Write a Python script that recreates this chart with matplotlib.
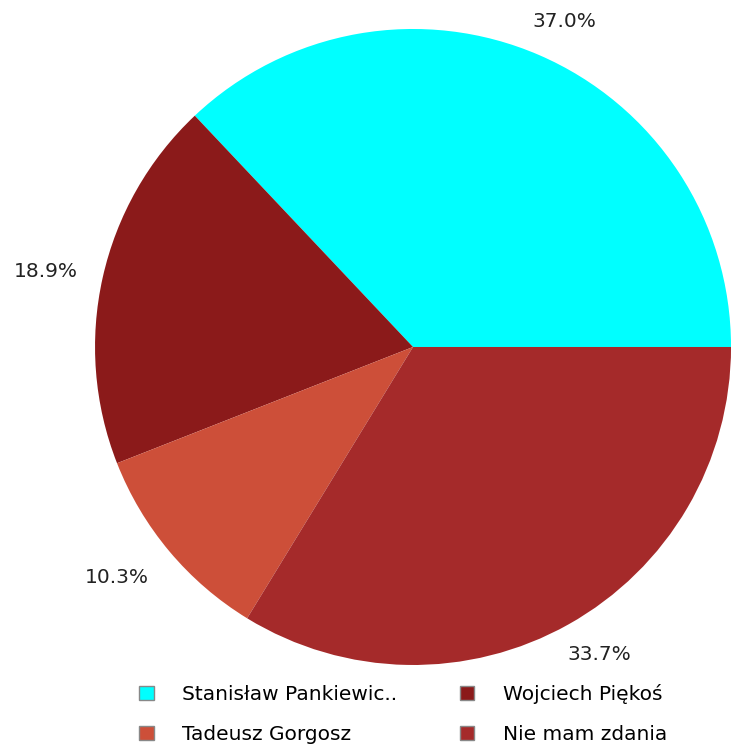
import matplotlib
matplotlib.use("Agg")
import numpy as np
import matplotlib.pyplot as plt

# dane wykresu
labels = ["Stanisław Pankiewic..", "Wojciech Piękoś", "Tadeusz Gorgosz", "Nie mam zdania"]
values = [37.0, 18.9, 10.3, 33.7]
colors = ["#00FFFF", "#8B1A1A", "#CD4F39", "#A52A2A"]
label_dist = [1.13, 1.18, 1.18, 1.13]   # odleglosc etykiet od srodka
label_shift = [-1.6, 1.0, -2.1, 2.0]     # przesuniecie katowe etykiet (stopnie)

fig = plt.figure(figsize=(7.31, 7.47), dpi=100)
ax = fig.add_axes([0.130, 0.1098, 636 / 731, 636 / 747])

wedges, texts, autotexts = ax.pie(values, colors=colors, startangle=0,
                                  counterclock=True, autopct="%.1f%%",
                                  pctdistance=1.15, radius=1.0,
                                  wedgeprops=dict(linewidth=0))
for w, t, d, s in zip(wedges, autotexts, label_dist, label_shift):
    ang = np.deg2rad((w.theta1 + w.theta2) / 2 + s)
    t.set_position((d * np.cos(ang), d * np.sin(ang)))
    t.set_fontsize(14.5)
    t.set_color("#222222")
ax.set_xlim(-1, 1)
ax.set_ylim(-1, 1)
ax.set_aspect("equal")

# kolejnosc legendy: wiersz po wierszu
order = [0, 2, 1, 3]
fig.legend([wedges[i] for i in order], [labels[i] for i in order],
           loc="center", bbox_to_anchor=(0.5515, 0.0445), ncol=2, frameon=False,
           fontsize=14.5, handlelength=0.7, handleheight=0.7,
           columnspacing=3.15, labelspacing=1.05, handletextpad=1.4)
for h in fig.legends[0].legend_handles:
    h.set_edgecolor("#888888")
    h.set_linewidth(1)

fig.savefig("out.png", dpi=100)
